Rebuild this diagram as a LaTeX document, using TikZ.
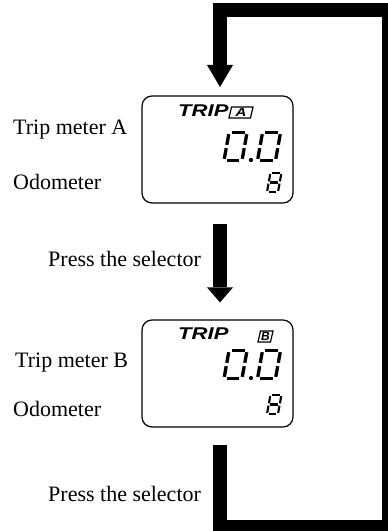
\documentclass[tikz,border=0pt]{standalone}
\usepackage{graphicx}
\usepackage{fontspec}
\setmainfont{Liberation Serif}
\newfontfamily\lcdfont{Liberation Sans}
\usetikzlibrary{arrows.meta}
\newcommand\sevseg[6]{%
 \begin{scope}[shift={(#1,#2)},xslant=0.18,x=#3pt,y=#4pt,line width=#5pt]
 \foreach \s in {#6}{%
  \ifcase\s\relax
   \draw (0.14,1)--(0.86,1);
  \or \draw (1,0.94)--(1,0.56);
  \or \draw (1,0.44)--(1,0.06);
  \or \draw (0.14,0)--(0.86,0);
  \or \draw (0,0.06)--(0,0.44);
  \or \draw (0,0.56)--(0,0.94);
  \or \draw (0.14,0.5)--(0.86,0.5);
  \fi}
 \end{scope}}
\tikzset{
  label/.style={inner sep=0pt,anchor=base west,font=\fontsize{22}{26}\selectfont},
  lcd/.style={draw,line width=1.2pt,rounded corners=10pt,minimum width=151pt,minimum height=107pt,inner sep=0pt},
  trip/.style={inner sep=0pt,anchor=base west,font=\lcdfont\bfseries\itshape\fontsize{17}{20}\selectfont},
  tag/.style={inner sep=0pt,font=\lcdfont\bfseries\itshape\fontsize{12}{14}\selectfont},
  tagbox/.style={line width=1.2pt,line join=miter},
  bigline/.style={line width=14pt,line join=miter,line cap=butt},
}
\begin{document}
\begin{tikzpicture}[x=1pt,y=1pt]
\useasboundingbox (0,0) rectangle (388,531);
\clip (0,0) rectangle (388,531);
% LCD boxes
\node[lcd] (lcdA) at (217.5,381.5) {};
\node[lcd] (lcdB) at (217.5,157.5) {};
% labels
\node[label] (tA) at (13,396) {Trip meter A};
\node[label] (oA) at (13,341) {Odometer};
\node[label] (p1) at (48,264) {Press the selector};
\node[label] (tB) at (15,163) {Trip meter B};
\node[label] (oB) at (13,114) {Odometer};
\node[label] (p2) at (48,29) {Press the selector};
% LCD A contents
\node[trip] (tripA) at (178,414) {\scalebox{1.3}[1]{TRIP}};
\draw[tagbox] (229,413) -- (250.5,413) -- (253,424) -- (231.5,424) -- cycle;
\node[tag] (tagA) at (241,418.5) {\scalebox{1.25}[1]{A}};
\sevseg{224}{370.5}{18}{28}{3.3}{0,1,2,3,4,5}
\fill (251,371) circle (2.1pt);
\sevseg{257.5}{370.5}{18}{28}{3.3}{0,1,2,3,4,5}
\sevseg{267}{339}{11}{19}{2.1}{0,1,2,3,4,5,6}
% LCD B contents
\node[trip] (tripB) at (178,191) {\scalebox{1.3}[1]{TRIP}};
\draw[tagbox] (258,189) -- (270.5,189) -- (273,200) -- (260.5,200) -- cycle;
\node[tag] (tagB) at (265.5,194.5) {B};
\sevseg{224}{152.5}{18}{28}{3.3}{0,1,2,3,4,5}
\fill (251,153) circle (2.1pt);
\sevseg{257.5}{152.5}{18}{28}{3.3}{0,1,2,3,4,5}
\sevseg{267}{117}{11}{19}{2.1}{0,1,2,3,4,5,6}
% connectors
\coordinate (loopstart) at (219.5,86);
\coordinate (loopend) at (220,444);
\draw[bigline,-{Triangle[width=26pt,length=22pt,line width=0pt]}]
  (loopstart) -- (219.5,4) -- (389,4) -- (389,521) -- (220,521) -- (loopend);
\draw[bigline,-{Triangle[width=26pt,length=15pt,line width=0pt]}]
  ([xshift=2.5pt,yshift=-20pt]lcdA.south) -- ([xshift=2.5pt,yshift=17pt]lcdB.north);
\end{tikzpicture}
\end{document}
